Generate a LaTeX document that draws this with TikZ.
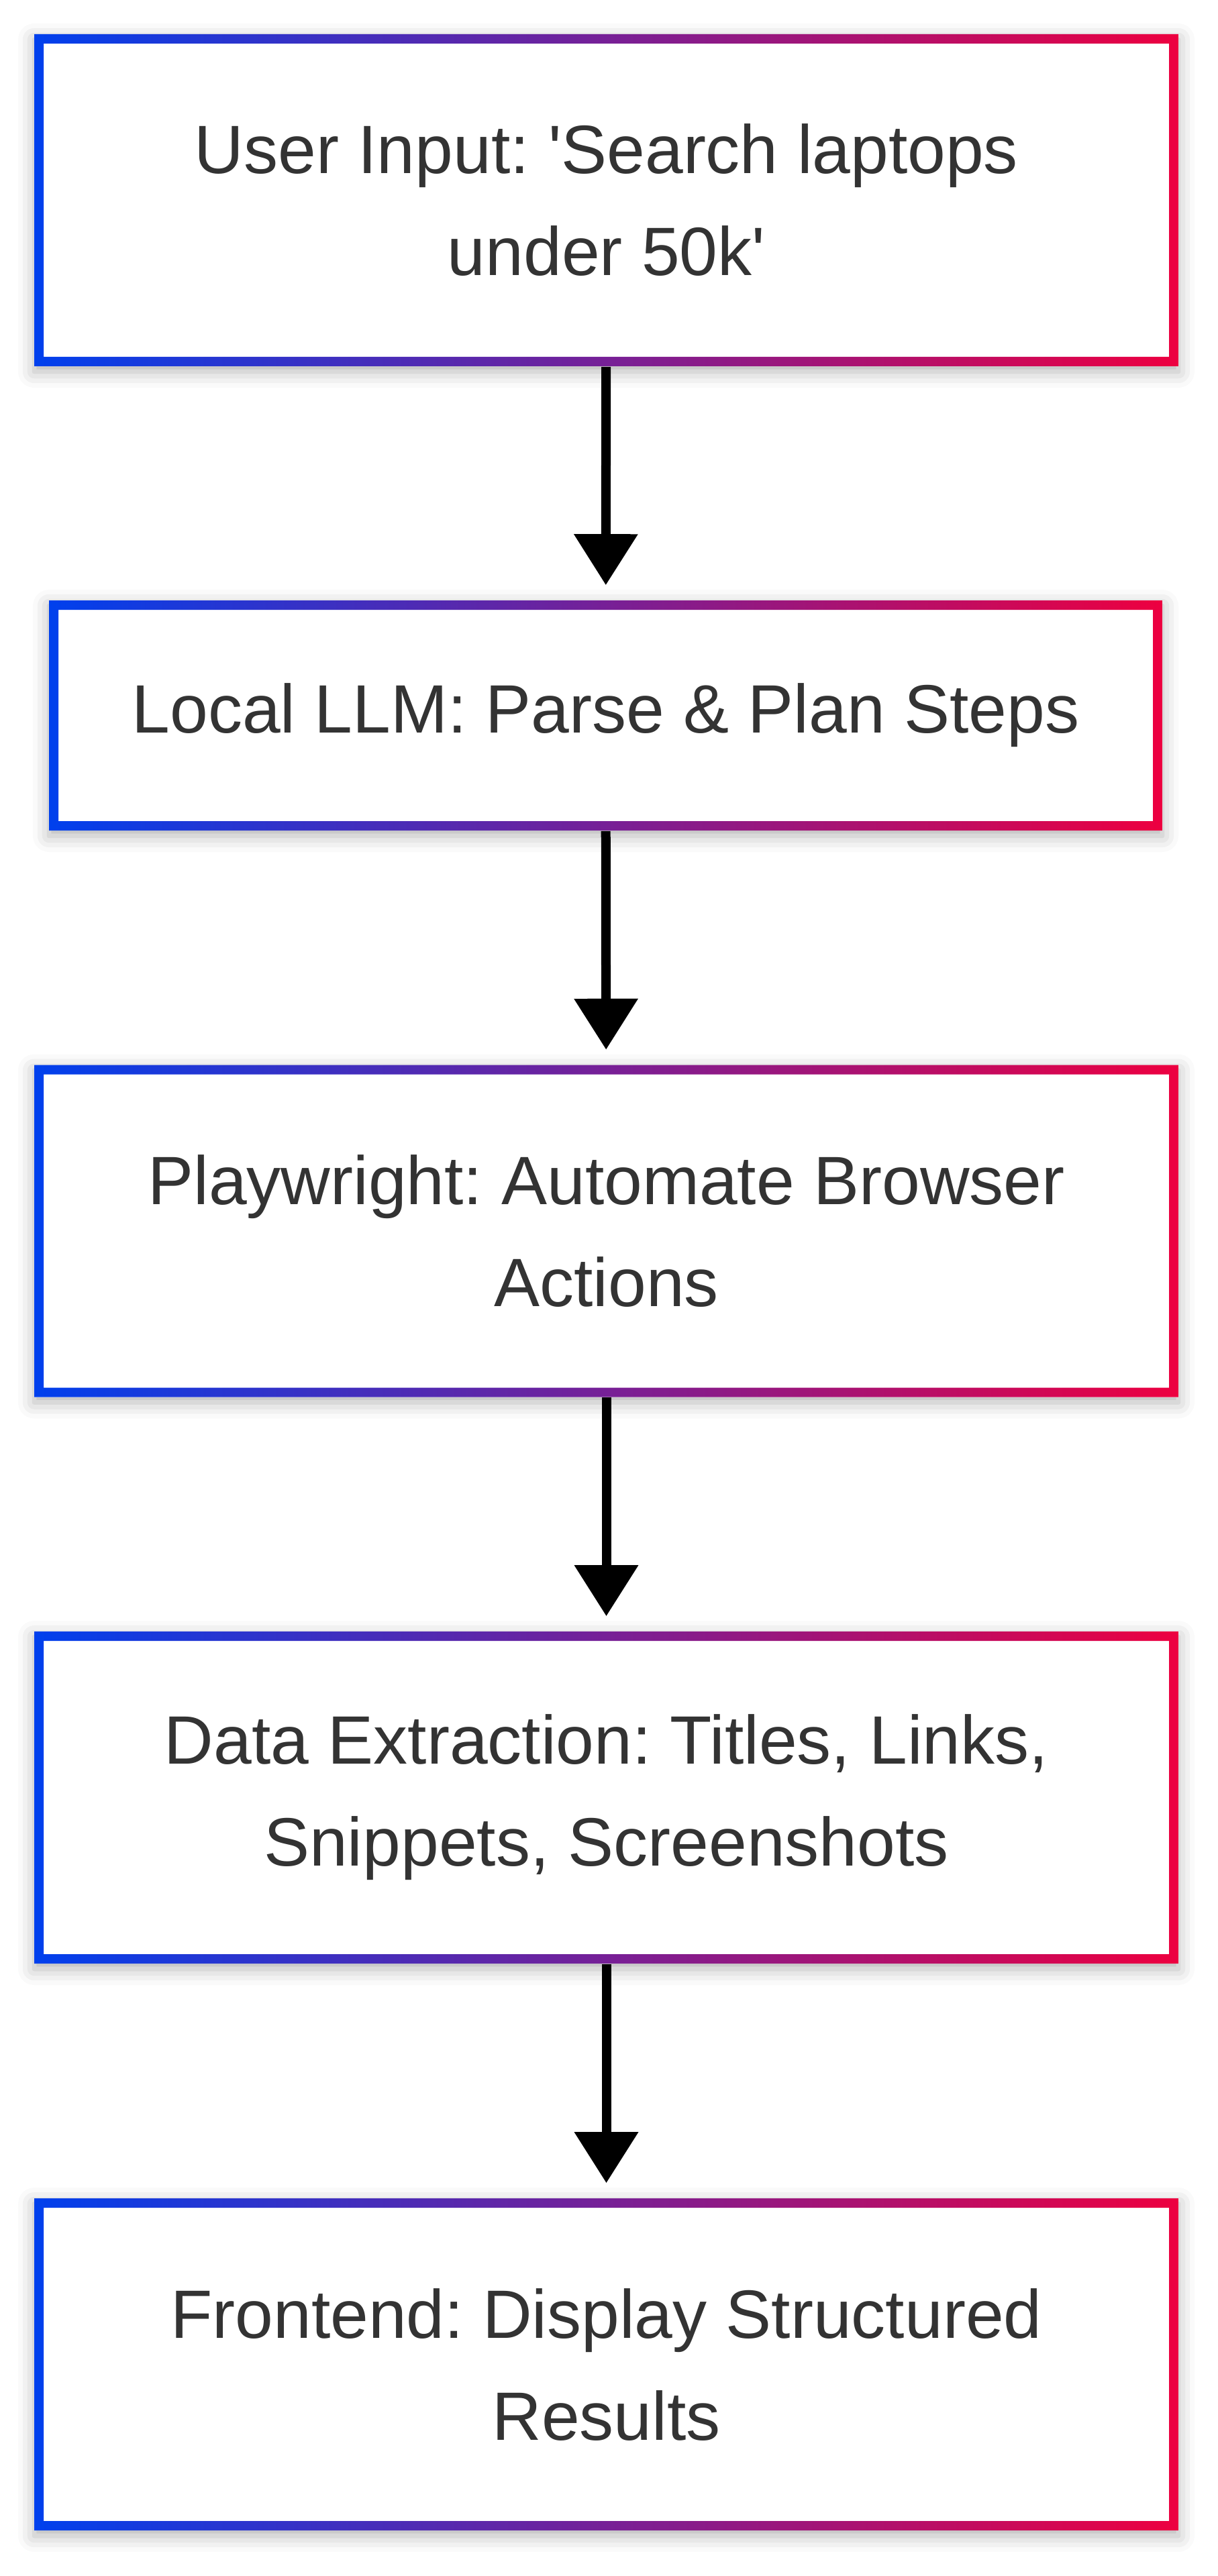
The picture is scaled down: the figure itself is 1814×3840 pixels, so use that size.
\documentclass[tikz,border=0pt]{standalone}
\usepackage{fontspec}
\setmainfont{Liberation Sans}
\usetikzlibrary{arrows.meta, positioning, shadows.blur}
\definecolor{edgeBlue}{RGB}{0,64,237}
\definecolor{edgeRed}{RGB}{237,0,64}
\definecolor{textGray}{RGB}{51,51,51}
\frenchspacing

\tikzset{
  stepbox/.style={fill=white, draw=none, inner sep=0pt, align=center,
    minimum width=426.25pt, minimum height=123.75pt,
    text=textGray, font=\fontsize{25.5}{38}\selectfont,
    blur shadow={shadow xshift=0pt, shadow yshift=-2pt, shadow blur radius=6pt, shadow opacity=30},
    path picture={
      \shade[even odd rule, left color=edgeBlue, right color=edgeRed]
        (path picture bounding box.south west) rectangle (path picture bounding box.north east)
        ([shift={(3.5pt,3.5pt)}]path picture bounding box.south west)
        rectangle ([shift={(-3.5pt,-3.5pt)}]path picture bounding box.north east);}},
  flow/.style={line width=3.5pt, -{Triangle[width=23pt, length=19pt]}, shorten >=5.5pt}
}

\begin{document}
\begin{tikzpicture}[x=0.25pt, y=-0.25pt]
    \useasboundingbox (0,0) rectangle (1814,3840);

    % Pipeline steps
    \node[stepbox] (input) at (903.5,298.5) {User Input: \textquotesingle Search laptops\\under 50k\textquotesingle};
    \node[stepbox, minimum width=414.75pt, minimum height=85.75pt] (llm) at (902.5,1066.5) {Local LLM: Parse \& Plan Steps};
    \node[stepbox] (browser) at (903.5,1835) {Playwright: Automate Browser\\Actions};
    \node[stepbox] (extract) at (903.5,2679.5) {Data Extraction: Titles, Links,\\Snippets, Screenshots};
    \node[stepbox] (display) at (903.5,3524.5) {Frontend: Display Structured\\Results};

    % Arrows
    \foreach \a/\b in {input/llm, llm/browser, browser/extract, extract/display} {
        \draw[flow] (\a) -- (\b);
    }
\end{tikzpicture}
\end{document}
